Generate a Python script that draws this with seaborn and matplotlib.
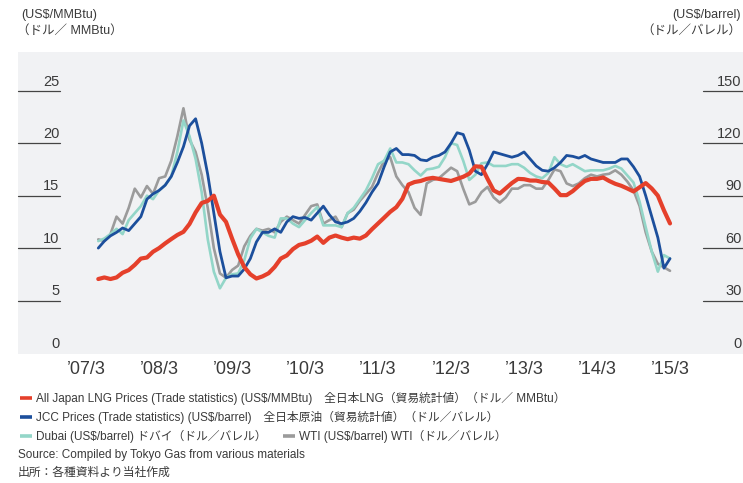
import matplotlib
matplotlib.use('Agg')
import matplotlib.pyplot as plt
from matplotlib.lines import Line2D
import pandas as pd
import seaborn as sns

# months counted from March 2007 (0 = '07/3); series run May 2007 .. March 2015
months = list(range(2, 97))

# All Japan LNG (US$/MMBtu) - left axis
lng = [7.05, 7.2, 7.05, 7.2, 7.65, 7.9, 8.4, 9.0, 9.1, 9.65,
       10.0, 10.45, 10.86, 11.25, 11.55, 12.3, 13.4, 14.3, 14.5, 15.0,
       13.2, 12.5, 10.9, 9.4, 8.2, 7.5, 7.1, 7.3, 7.6, 8.2,
       9.0, 9.3, 9.9, 10.3, 10.45, 10.7, 11.1, 10.5, 11.0, 11.2,
       11.0, 10.85, 11.0, 10.9, 11.2, 11.8, 12.35, 12.9, 13.46, 13.9,
       14.7, 16.06, 16.3, 16.4, 16.6, 16.7, 16.6, 16.5, 16.4, 16.6,
       16.8, 17.1, 17.8, 17.75, 16.6, 15.5, 15.2, 15.7, 16.2, 16.6,
       16.57, 16.44, 16.44, 16.3, 16.25, 15.68, 15.05, 15.05, 15.43, 15.94,
       16.4, 16.6, 16.6, 16.73, 16.4, 16.13, 15.94, 15.68, 15.4, 15.8,
       16.2, 15.68, 15.0, 13.6, 12.35]

# JCC (US$/barrel) - right axis
jcc = [60, 64, 67, 69, 71.5, 70, 74, 78, 88, 91,
       93, 96, 101, 109, 118, 130, 134, 120, 102, 80,
       58, 43, 44, 44, 48, 54, 63.5, 69, 69, 71,
       69, 75, 78, 77, 77.5, 76, 80, 84, 79, 75,
       74, 75, 77, 81, 86, 92, 97, 106.5, 115, 117,
       113.5, 113.5, 113, 110.5, 110, 112, 113, 115, 120, 126,
       125, 116, 104, 102, 108, 115, 114, 113, 112, 113,
       115, 111, 107, 104.5, 104, 106, 109, 113, 112.5, 111.5,
       113, 111, 110, 109, 109, 109, 111, 111, 106.5, 101,
       90, 78, 66, 48.5, 54]

# Dubai (US$/barrel)
dubai = [64, 65.5, 68, 71, 68, 76, 80, 84, 90, 88,
         93, 96, 101, 115, 133, 124, 111, 92, 65, 46.5,
         37, 43, 45, 45.5, 53, 65.5, 71, 69, 67, 66,
         77, 77, 74, 72, 76, 80, 83.5, 73, 73, 73,
         72, 80, 83, 88, 93, 100, 108, 110, 117, 109,
         109, 108, 104.5, 101.5, 105, 105.5, 106.5, 112, 120, 119,
         110, 99, 102, 108.5, 109, 107, 107, 107, 108, 108,
         106, 103, 101, 100, 103, 112, 108, 106.5, 108, 106,
         104, 104.5, 104.5, 104.5, 105.5, 107, 105.5, 101.5, 97.5, 86.5,
         72, 58, 46.5, 56, 54]

# WTI (US$/barrel)
wti = [65, 64, 68, 78, 74, 83, 94, 89, 95.5, 91,
       100, 101, 110, 124, 140, 122, 115, 102, 83, 60,
       45.5, 43, 47.5, 50, 61, 67, 71, 70, 71, 69,
       75, 78, 76, 74, 79, 84, 85, 74, 76, 78,
       72, 80, 82, 87, 91, 95, 103, 110, 112, 101,
       96, 92, 83, 79, 97, 99, 100, 103, 106, 104,
       94, 85, 86.5, 92, 95, 89, 86, 89, 94, 94,
       96, 96, 94, 94, 99, 105, 104, 97, 95.5, 97,
       100, 102, 101, 102, 102.5, 104.5, 102, 98, 93, 84,
       69, 58, 51, 49, 47]

year_ticks = [0, 12, 24, 36, 48, 60, 72, 84, 96]
year_labels = ["’07/3", "’08/3", "’09/3", "’10/3", "’11/3",
               "’12/3", "’13/3", "’14/3", "’15/3"]
left_ticks = [0, 5, 10, 15, 20, 25]
right_ticks = [0, 30, 60, 90, 120, 150]

C_LNG = '#e5402b'
C_JCC = '#1c4f9c'
C_DUBAI = '#93d6c8'
C_WTI = '#9b9b9b'
C_TXT = '#3a3a3a'

sns.set_theme(style='white')
plt.rcParams['font.family'] = ['Liberation Sans', 'Noto Sans CJK JP']

W, H = 743, 483
fig = plt.figure(figsize=(W / 100, H / 100), dpi=100)
ax = fig.add_axes([18 / W, 1 - 354 / H, 725 / W, 302 / H])
ax.set_facecolor('#f1f2f4')
ax2 = ax.twinx()

oil = pd.DataFrame({'month': months, 'Dubai': dubai, 'WTI': wti, 'JCC': jcc})
sns.lineplot(data=oil, x='month', y='WTI', ax=ax, color=C_WTI, linewidth=1.9)
sns.lineplot(data=oil, x='month', y='Dubai', ax=ax, color=C_DUBAI, linewidth=1.9)
sns.lineplot(data=oil, x='month', y='JCC', ax=ax, color=C_JCC, linewidth=2.0)
sns.lineplot(x=months, y=lng, ax=ax2, color=C_LNG, linewidth=3.0)

ax.set_xlim(-11.2, 108)
ax.set_ylim(-0.6, 172.2)
ax2.set_ylim(-0.1, 28.7)
for a in (ax, ax2):
    for s in a.spines.values():
        s.set_visible(False)
    a.set_ylabel('')
    a.set_yticks([])
ax.set_xlabel('')
ax.set_xticks(year_ticks, year_labels)
ax.tick_params(axis='x', length=0, pad=5, labelsize=13, labelcolor=C_TXT)

# left scale (LNG)
ltr = ax2.get_yaxis_transform()
for v in left_ticks:
    if v > 0:
        ax2.plot([0, 0.058], [v, v], transform=ltr, color='#444444',
                 linewidth=0.9, clip_on=False)
    ax2.text(0.057, v + 0.5, str(v), transform=ltr, ha='right',
             va='baseline', fontsize=10.5, color=C_TXT)

# right scale (oil)
rtr = ax.get_yaxis_transform()
for v in right_ticks:
    if v > 0:
        ax.plot([0.945, 1.0], [v, v], transform=rtr, color='#444444',
                linewidth=0.9, clip_on=False)
    ax.text(0.998, v + 3.0, str(v), transform=rtr, ha='right',
            va='baseline', fontsize=10.5, color=C_TXT)

# unit headers
fig.text(21 / W, 1 - 15 / H, '(US$/MMBtu)', va='center', fontsize=9, color=C_TXT)
fig.text(17 / W, 1 - 31 / H, '（ドル／ MMBtu）', va='center', fontsize=9, color=C_TXT)
fig.text(741 / W, 1 - 15 / H, '(US$/barrel)', ha='right', va='center', fontsize=9, color=C_TXT)
fig.text(741 / W, 1 - 31 / H, '（ドル／バレル）', ha='right', va='center', fontsize=9, color=C_TXT)


def legend_item(x0, y, color, label):
    yf = 1 - y / H
    fig.add_artist(Line2D([x0 / W, (x0 + 12) / W], [yf, yf], color=color,
                          linewidth=2.6, solid_capstyle='butt',
                          transform=fig.transFigure))
    fig.text((x0 + 16) / W, yf, label, va='center', fontsize=8.5, color=C_TXT)


legend_item(20, 398, C_LNG,
            'All Japan LNG Prices (Trade statistics) (US$/MMBtu)　全日本LNG（貿易統計値）（ドル／ MMBtu）')
legend_item(20, 417, C_JCC,
            'JCC Prices (Trade statistics) (US$/barrel)　全日本原油（貿易統計値）（ドル／バレル）')
legend_item(20, 436, C_DUBAI, 'Dubai (US$/barrel) ドバイ（ドル／バレル）')
legend_item(283, 436, C_WTI, 'WTI (US$/barrel) WTI（ドル／バレル）')
fig.text(18 / W, 1 - 455 / H, 'Source: Compiled by Tokyo Gas from various materials',
         va='center', fontsize=8.5, color=C_TXT)
fig.text(18 / W, 1 - 473 / H, '出所：各種資料より当社作成',
         va='center', fontsize=8.5, color=C_TXT)

fig.savefig('out.png', dpi=100, facecolor='white')
